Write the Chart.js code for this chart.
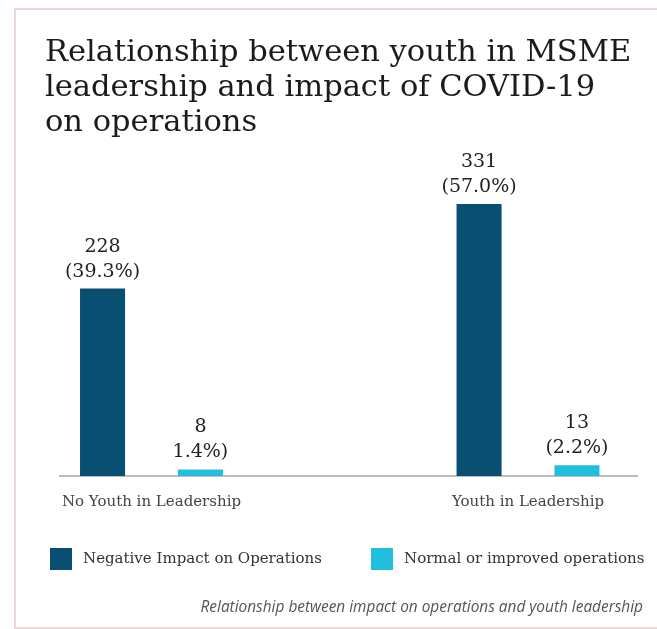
<!DOCTYPE html>
<html>
<head>
<meta charset="utf-8">
<script src="https://cdn.jsdelivr.net/npm/chart.js@4.4.1/dist/chart.umd.min.js"></script>
<style>
  html, body { margin: 0; padding: 0; background: #fff; }
  body { width: 657px; height: 629px; position: relative; overflow: hidden; }
  .frame { position: absolute; left: 14px; top: 8px; width: 700px; height: 621px; border: 2px solid #f0d5db; box-sizing: border-box; }
  .wrap { position: absolute; left: 0; top: 0; width: 657px; height: 629px; }
</style>
</head>
<body>
<div class="frame"></div>
<div class="wrap"><canvas id="chart"></canvas></div>
<script>
const groups = ['No Youth in Leadership', 'Youth in Leadership'];
const seriesNames = ['Negative Impact on Operations', 'Normal or improved operations'];
const negativeCounts = [228, 331];
const normalCounts = [8, 13];
const negativeShares = ['(39.3%)', '(57.0%)'];
const normalShares = ['1.4%)', '(2.2%)'];
const seriesColors = ['#084f72', '#22bede'];
const caption = 'Relationship between impact on operations and youth leadership';

const serif = '"DejaVu Serif", serif';

// count + share written above every bar
const valueLabels = {
    id: 'valueLabels',
    afterDatasetsDraw(chart) {
        const ctx = chart.ctx;
        ctx.save();
        ctx.font = '19px ' + serif;
        ctx.fillStyle = '#222';
        ctx.textAlign = 'center';
        ctx.textBaseline = 'alphabetic';
        chart.data.datasets.forEach((ds, d) => {
            chart.getDatasetMeta(d).data.forEach((bar, i) => {
                ctx.fillText(String(ds.data[i].y), bar.x, bar.y - 37);
                ctx.fillText(ds.shares[i], bar.x, bar.y - 12);
            });
        });
        ctx.restore();
    }
};

// legend row with square swatches + the italic caption under it
const footer = {
    id: 'footer',
    afterDraw(chart, args, opts) {
        const ctx = chart.ctx;
        ctx.save();
        ctx.font = opts.font;
        ctx.textBaseline = 'middle';
        ctx.textAlign = 'left';
        chart.data.datasets.forEach((ds, d) => {
            const x = opts.starts[d];
            ctx.fillStyle = ds.backgroundColor;
            ctx.fillRect(x, opts.y - opts.box / 2, opts.box, opts.box);
            ctx.fillStyle = opts.color;
            ctx.fillText(ds.label, x + opts.box + opts.gap, opts.y);
        });

        ctx.font = opts.captionFont;
        ctx.fillStyle = opts.captionColor;
        ctx.textAlign = 'right';
        ctx.textBaseline = 'alphabetic';
        ctx.fillText(caption, opts.captionRight, opts.captionY);
        ctx.restore();
    }
};

new Chart(document.getElementById('chart'), {
    type: 'bar',
    data: {
        datasets: [
            {
                label: seriesNames[0],
                data: negativeCounts.map((v, i) => ({ x: i, y: v })),
                shares: negativeShares,
                backgroundColor: seriesColors[0]
            },
            {
                label: seriesNames[1],
                data: normalCounts.map((v, i) => ({ x: i, y: v })),
                shares: normalShares,
                backgroundColor: seriesColors[1]
            }
        ]
    },
    options: {
        responsive: true,
        maintainAspectRatio: false,
        animation: false,
        categoryPercentage: 0.52,
        barPercentage: 0.46,
        layout: { padding: { left: 45, right: 12, top: 0, bottom: 101 } },
        plugins: {
            legend: { display: false },
            tooltip: { enabled: false },
            title: {
                display: true,
                text: ['Relationship between youth in MSME', 'leadership and impact of COVID-19', 'on operations'],
                align: 'start',
                color: '#1b1b1b',
                font: { family: serif, size: 30.5, weight: 'normal', lineHeight: 1.16 },
                padding: { top: 35, bottom: 11 }
            },
            footer: {
                starts: [50, 371],
                y: 559,
                box: 22,
                gap: 11,
                font: '15px ' + serif,
                color: '#333',
                captionFont: 'italic 15.4px "Open Sans", sans-serif',
                captionColor: '#555',
                captionRight: 643,
                captionY: 612
            }
        },
        scales: {
            x: {
                type: 'linear',
                offset: false,
                min: -0.243,
                max: 1.2895,
                grid: { display: false, drawTicks: false },
                border: { color: '#bdbdbd', width: 2 },
                afterBuildTicks: (axis) => { axis.ticks = groups.map((g, i) => ({ value: i })); },
                ticks: {
                    callback: (v) => groups[v],
                    padding: 17,
                    color: '#444',
                    autoSkip: false,
                    maxRotation: 0,
                    font: { family: serif, size: 15 }
                }
            },
            y: {
                min: 0,
                max: 394,
                ticks: { display: false },
                grid: { display: false },
                border: { display: false },
                afterFit: (axis) => { axis.width = 15; }
            },
            yRight: {
                position: 'right',
                ticks: { display: false },
                grid: { display: false },
                border: { display: false },
                afterFit: (axis) => { axis.width = 8; }
            }
        }
    },
    plugins: [valueLabels, footer]
});
</script>
</body>
</html>
